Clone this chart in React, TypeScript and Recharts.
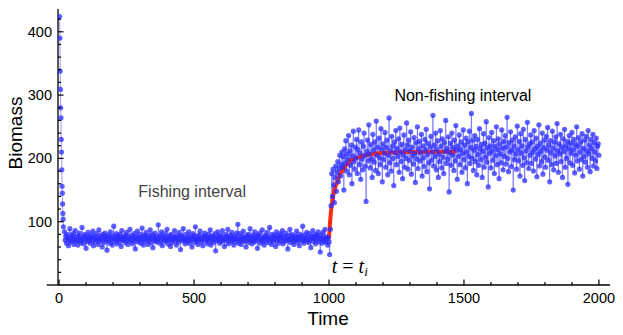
import React from "react";
import { ComposedChart, Line, XAxis, YAxis, ReferenceLine, ReferenceDot, Label } from "recharts";

// initial crash from the unfished stock (t = 2..16, step 1)
const DECLINE_BIOMASS = [424, 390, 338, 309, 280, 264, 230, 210, 182, 156, 145, 128, 113, 104, 92];

// fishing interval, t = 20..997.5 step 2.5
const FISHING_BIOMASS = [
  84, 71, 77, 66, 80, 73, 62, 75, 89, 70, 68, 79, 74, 81, 64, 72, 86, 69, 76, 71,
  63, 78, 82, 70, 74, 67, 91, 73, 65, 77, 80, 72, 58, 75, 69, 83, 71, 76, 66, 79,
  74, 70, 85, 62, 77, 73, 68, 81, 75, 71, 64, 87, 72, 78, 69, 74, 60, 80, 76, 67,
  82, 73, 71, 55, 76, 79, 70, 66, 84, 72, 75, 63, 78, 93, 69, 74, 71, 81, 65, 77,
  73, 68, 80, 75, 61, 86, 72, 77, 70, 74, 67, 79, 83, 71, 64, 76, 73, 88, 69, 72,
  78, 65, 74, 81, 70, 57, 77, 73, 85, 68, 75, 71, 80, 66, 74, 90, 72, 63, 79, 76,
  69, 83, 72, 75, 64, 78, 71, 87, 67, 74, 80, 59, 76, 73, 82, 70, 68, 77, 72, 95,
  74, 66, 79, 71, 84, 62, 76, 73, 69, 81, 75, 70, 88, 65, 72, 78, 74, 61, 80, 71,
  67, 77, 73, 86, 70, 75, 63, 79, 72, 68, 83, 74, 56, 78, 71, 76, 89, 69, 73, 65,
  80, 72, 75, 69, 84, 66, 77, 71, 74, 60, 81, 73, 78, 67, 92, 72, 70, 76, 64, 79,
  73, 85, 68, 74, 71, 62, 78, 75, 82, 69, 77, 72, 65, 80, 74, 70, 87, 63, 76, 71,
  78, 67, 73, 81, 54, 75, 70, 84, 72, 77, 66, 79, 74, 69, 86, 71, 76, 61, 73, 80,
  70, 76, 88, 65, 74, 72, 79, 68, 83, 71, 75, 63, 77, 73, 69, 82, 74, 96, 66, 72,
  81, 71, 64, 77, 73, 85, 69, 75, 70, 60, 78, 74, 80, 67, 73, 89, 71, 76, 65, 79,
  72, 68, 84, 74, 70, 77, 58, 79, 73, 82, 66, 75, 71, 87, 69, 74, 63, 78, 76, 70,
  83, 73, 67, 76, 91, 71, 74, 64, 80, 72, 69, 78, 75, 61, 84, 70, 77, 73, 66, 81,
  74, 79, 70, 86, 65, 73, 77, 69, 82, 75, 71, 57, 78, 72, 88, 67, 74, 80, 70, 76,
  64, 78, 73, 71, 85, 68, 76, 74, 62, 80, 72, 77, 69, 93, 73, 66, 79, 71, 75, 83,
  70, 74, 67, 81, 72, 59, 77, 75, 86, 69, 73, 78, 65, 80, 71, 76, 84, 68, 74, 52,
  79, 72, 66, 83, 74, 70, 88, 68, 76, 73, 63, 75,
];

// non-fishing interval, t = 1000..2000 step 2.5
const RECOVERY_BIOMASS = [
  68, 48, 88, 125, 176, 140, 183, 158, 130, 170, 188, 148, 178, 195, 163, 184, 205, 172, 190, 210,
  186, 203, 150, 215, 192, 228, 180, 207, 198, 236, 174, 212, 189, 221, 160, 204, 243, 195, 183, 218,
  201, 230, 176, 214, 245, 190, 208, 167, 226, 199, 182, 219, 240, 204, 188, 132, 211, 229, 196, 253,
  207, 185, 222, 199, 170, 238, 213, 194, 226, 181, 259, 205, 218, 176, 232, 201, 190, 247, 215, 163,
  223, 198, 208, 241, 186, 217, 229, 174, 205, 264, 193, 212, 180, 235, 219, 200, 157, 226, 209, 244,
  190, 216, 203, 231, 178, 248, 210, 195, 222, 168, 206, 237, 186, 214, 200, 256, 221, 183, 229, 197,
  212, 242, 175, 218, 204, 191, 233, 208, 162, 225, 199, 250, 184, 215, 227, 196, 209, 238, 172, 220,
  201, 187, 230, 213, 246, 179, 206, 224, 193, 152, 218, 235, 197, 210, 268, 188, 221, 203, 240, 182,
  214, 228, 170, 207, 195, 244, 219, 185, 231, 202, 176, 225, 211, 260, 192, 216, 199, 234, 147, 209,
  224, 189, 240, 205, 217, 181, 229, 196, 252, 213, 167, 220, 203, 237, 190, 214, 226, 178, 208, 245,
  198, 221, 185, 232, 210, 160, 226, 203, 243, 192, 217, 271, 200, 229, 181, 213, 236, 195, 219, 174,
  230, 206, 189, 247, 215, 198, 222, 170, 211, 239, 186, 224, 202, 258, 194, 217, 155, 233, 208, 220,
  185, 241, 212, 197, 228, 176, 219, 204, 250, 190, 214, 231, 168, 223, 207, 193, 245, 216, 182, 227,
  203, 236, 191, 218, 265, 200, 179, 225, 210, 242, 187, 213, 229, 150, 220, 198, 234, 207, 183, 251,
  214, 196, 227, 172, 239, 208, 220, 189, 246, 201, 165, 230, 212, 193, 257, 218, 184, 223, 205, 237,
  192, 226, 210, 180, 244, 215, 199, 232, 171, 219, 206, 253, 188, 224, 211, 195, 240, 175, 217, 229,
  202, 186, 235, 213, 249, 197, 221, 163, 228, 209, 190, 243, 216, 182, 226, 204, 234, 192, 255, 212,
  178, 223, 207, 238, 195, 218, 170, 231, 211, 246, 186, 220, 200, 227, 159, 215, 236, 193, 224, 208,
  241, 189, 214, 230, 177, 222, 205, 250, 196, 219, 233, 183, 210, 226, 198, 239, 172, 216, 203, 229,
  194, 235, 212, 186, 244, 207, 221, 179, 230, 215, 200, 238, 188, 225, 210, 196, 232, 184, 219, 223,
  205,
];

// fitted recovery curve
const FIT_TIME = [1000, 1005, 1010, 1015, 1020, 1030, 1040, 1050, 1065, 1080, 1100, 1125, 1150, 1200, 1300, 1400, 1470];
const FIT_BIOMASS = [74, 105, 126, 140, 150, 163, 174, 181, 190, 196, 200, 204, 206, 209, 210, 210.5, 210.5];

const X_TICKS = [0, 100, 200, 300, 400, 500, 600, 700, 800, 900, 1000, 1100, 1200, 1300, 1400, 1500, 1600, 1700, 1800, 1900, 2000];
const X_LABELS = [0, 500, 1000, 1500, 2000];
const Y_TICKS = [20, 40, 60, 80, 100, 120, 140, 160, 180, 200, 220, 240, 260, 280, 300, 320, 340, 360, 380, 400, 420];
const Y_LABELS = [100, 200, 300, 400];

const blueData = [
  ...DECLINE_BIOMASS.map((b, i) => ({ t: 2 + i, b })),
  ...FISHING_BIOMASS.map((b, i) => ({ t: 20 + 2.5 * i, b })),
  ...RECOVERY_BIOMASS.map((b, i) => ({ t: 1000 + 2.5 * i, b })),
];
const fitData = FIT_TIME.map((t, i) => ({ t, b: FIT_BIOMASS[i] }));

const FONT = '"Liberation Sans", Arial, Helvetica, sans-serif';

function XTick(props: any) {
  const { x, y, payload } = props;
  const major = X_LABELS.includes(payload.value);
  return (
    <g>
      <line x1={x} x2={x} y1={y} y2={y - (major ? 5.5 : 3)} stroke="#000" strokeWidth={1.2} />
      {major && (
        <text x={x} y={y + 18} textAnchor="middle" fontSize={14.5} fontFamily={FONT} fill="#000">
          {payload.value}
        </text>
      )}
    </g>
  );
}

function YTick(props: any) {
  const { x, y, payload } = props;
  const major = Y_LABELS.includes(payload.value);
  return (
    <g>
      <line x1={x + 6} x2={x + 6 + (major ? 5.5 : 3)} y1={y} y2={y} stroke="#000" strokeWidth={1.2} />
      {major && (
        <text x={x} y={y + 5} textAnchor="end" fontSize={14.5} fontFamily={FONT} fill="#000">
          {payload.value}
        </text>
      )}
    </g>
  );
}

function centerOf(viewBox: any) {
  return { cx: viewBox.x + (viewBox.width || 0) / 2, cy: viewBox.y + (viewBox.height || 0) / 2 };
}

export default function App() {
  return (
    <div style={{ position: "absolute", left: 0, top: 0, width: 623, height: 335, background: "#fff" }}>
      <ComposedChart width={623} height={335} data={blueData} margin={{ top: 9, right: 13, left: 28, bottom: 20 }}>
        <XAxis
          type="number"
          dataKey="t"
          domain={[-4, 2041]}
          ticks={X_TICKS}
          interval={0}
          tickSize={0}
          tickMargin={0}
          tickLine={false}
          tick={<XTick />}
          height={30}
          allowDataOverflow
          axisLine={{ stroke: "#000", strokeWidth: 1.3 }}
        >
          <Label
            content={(p: any) => (
              <text x={328} y={p.viewBox.y + 40} textAnchor="middle" fontSize={19} fontFamily={FONT} fill="#000">
                Time
              </text>
            )}
          />
        </XAxis>
        <YAxis
          type="number"
          domain={[0, 436]}
          ticks={Y_TICKS}
          interval={0}
          width={30}
          tickSize={0}
          tickMargin={6}
          tickLine={false}
          tick={<YTick />}
          allowDataOverflow
          axisLine={{ stroke: "#000", strokeWidth: 1.3 }}
        >
          <Label
            content={() => (
              <text
                x={0}
                y={0}
                transform="translate(22 133) rotate(-90)"
                textAnchor="middle"
                fontSize={19}
                fontFamily={FONT}
                fill="#000"
              >
                Biomass
              </text>
            )}
          />
        </YAxis>
        <ReferenceLine
          segment={[{ x: -46, y: 0 }, { x: -4, y: 0 }]}
          stroke="#000"
          strokeWidth={1.3}
          ifOverflow="visible"
        />
        <Line
          data={blueData}
          dataKey="b"
          type="linear"
          stroke="#4a4aff"
          strokeOpacity={0.55}
          strokeWidth={1}
          dot={{ r: 2.6, fill: "#2c2cff", fillOpacity: 0.75, stroke: "none" }}
          activeDot={false}
          isAnimationActive={false}
        />
        <Line
          data={fitData}
          dataKey="b"
          type="monotone"
          stroke="#ff2a10"
          strokeWidth={4}
          dot={false}
          activeDot={false}
          isAnimationActive={false}
        />
        <ReferenceDot
          x={493}
          y={147}
          r={1}
          fill="none"
          stroke="none"
          ifOverflow="visible"
          label={{
            content: (p: any) => {
              const { cx, cy } = centerOf(p.viewBox);
              return (
                <text x={cx} y={cy + 5.5} textAnchor="middle" fontSize={16} fontFamily={FONT} fill="#444">
                  Fishing interval
                </text>
              );
            },
          }}
        />
        <ReferenceDot
          x={1496}
          y={300}
          r={1}
          fill="none"
          stroke="none"
          ifOverflow="visible"
          label={{
            content: (p: any) => {
              const { cx, cy } = centerOf(p.viewBox);
              return (
                <text x={cx} y={cy + 5.5} textAnchor="middle" fontSize={16} fontFamily={FONT} fill="#000">
                  Non-fishing interval
                </text>
              );
            },
          }}
        />
        <ReferenceDot
          x={1077}
          y={28}
          r={1}
          fill="none"
          stroke="none"
          ifOverflow="visible"
          label={{
            content: (p: any) => {
              const { cx, cy } = centerOf(p.viewBox);
              return (
                <text x={cx} y={cy + 6} textAnchor="middle" fontSize={20} fontFamily='"Liberation Serif", "DejaVu Serif", serif' fill="#000">
                  <tspan fontStyle="italic">t</tspan>
                  <tspan> = </tspan>
                  <tspan fontStyle="italic">t</tspan>
                  <tspan fontStyle="italic" fontSize={13} dy={3}>i</tspan>
                </text>
              );
            },
          }}
        />
      </ComposedChart>
    </div>
  );
}
